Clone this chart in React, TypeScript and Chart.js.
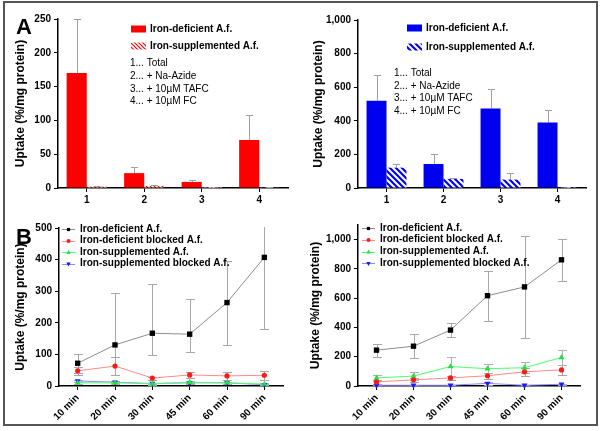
import React, { useEffect, useRef } from 'react';
import { Chart, registerables } from 'chart.js';

Chart.register(...registerables);

const FONT = "'Liberation Sans', Arial, Helvetica, sans-serif";
Chart.defaults.font.family = FONT;
Chart.defaults.color = '#000';

// ---------- data ----------
const barCategories = ['1', '2', '3', '4'];
const timeLabels = ['10 min', '20 min', '30 min', '45 min', '60 min', '90 min'];
const conditionNotes = ['1... Total', '2... + Na-Azide', '3... + 10\u00B5M TAFC', '4... + 10\u00B5M FC'];
const yTitle = 'Uptake (%/mg protein)';
const barSeriesNames = ['Iron-deficient A.f.', 'Iron-supplemented A.f.'];
const lineSeriesNames = [
  'Iron-deficient A.f.',
  'Iron-deficient blocked A.f.',
  'Iron-supplemented A.f.',
  'Iron-supplemented blocked A.f.',
];

// Panel A, left
const aLeftDeficient = [170, 22, 9, 71];
const aLeftDeficientErr = [80, 9, 3, 37];
const aLeftSupplemented = [2, 3, 1.5, 1];
const aLeftSupplementedErr = [1, 2, 0.5, 0.5];

// Panel A, right
const aRightDeficient = [520, 143, 473, 390];
const aRightDeficientErr = [152, 57, 114, 75];
const aRightSupplemented = [121, 54, 50, 5];
const aRightSupplementedErr = [24, 6, 40, 2];

// Panel B, left (error bars: upper / lower extent)
const bLeftDef = [72, 130, 167, 164, 264, 407];
const bLeftDefErrUp = [29, 164, 156, 110, 132, 228];
const bLeftDefErrDown = [32, 37, 69, 56, 134, 228];
const bLeftDefBlocked = [48, 63, 25, 35, 32, 34];
const bLeftDefBlockedErr = [12, 29, 5, 9, 13, 14];
const bLeftSup = [10, 10, 7, 12, 10, 6];
const bLeftSupErr = [4, 3, 3, 4, 3, 3];
const bLeftSupBlocked = [16, 12, 8, 10, 10, 4];
const bLeftSupBlockedErr = [4, 3, 2, 3, 3, 2];

// Panel B, right
const bRightDef = [245, 272, 382, 617, 677, 862];
const bRightDefErr = [45, 80, 48, 170, 347, 142];
const bRightDefBlocked = [28, 42, 55, 70, 97, 110];
const bRightDefBlockedErr = [12, 13, 15, 20, 28, 35];
const bRightSup = [55, 68, 133, 118, 125, 195];
const bRightSupErr = [18, 25, 65, 30, 38, 50];
const bRightSupBlocked = [5, 5, 5, 18, 5, 12];
const bRightSupBlockedErr = [3, 3, 3, 8, 3, 5];

// ---------- helpers ----------
function makeHatch(color: string, size: number, lw: number) {
  const c = document.createElement('canvas');
  c.width = size;
  c.height = size;
  const ctx = c.getContext('2d')!;
  ctx.fillStyle = '#fff';
  ctx.fillRect(0, 0, size, size);
  ctx.strokeStyle = color;
  ctx.lineWidth = lw;
  ctx.beginPath();
  ctx.moveTo(-2, -2);
  ctx.lineTo(size + 2, size + 2);
  ctx.moveTo(-2, size - 2);
  ctx.lineTo(2, size + 2);
  ctx.moveTo(size - 2, -2);
  ctx.lineTo(size + 2, 2);
  ctx.stroke();
  return ctx.createPattern(c, 'repeat')!;
}

const errorBarPlugin = {
  id: 'errorBars',
  beforeDatasetsDraw(chart: any) {
    const ctx = chart.ctx;
    const area = chart.chartArea;
    ctx.save();
    ctx.beginPath();
    ctx.rect(area.left, area.top - 1, area.right - area.left, area.bottom - area.top + 1);
    ctx.clip();
    chart.data.datasets.forEach((ds: any, i: number) => {
      const eb = ds.errorBars;
      if (!eb) return;
      const meta = chart.getDatasetMeta(i);
      const yScale = chart.scales[meta.yAxisID];
      ctx.strokeStyle = eb.color;
      ctx.lineWidth = 1;
      meta.data.forEach((el: any, j: number) => {
        const v = ds.data[j];
        const up = eb.up[j];
        const x = Math.round(el.x) + 0.5;
        const yTop = Math.round(yScale.getPixelForValue(v + up)) + 0.5;
        const both = !!eb.down;
        const yBot = both
          ? Math.round(yScale.getPixelForValue(v - eb.down[j])) + 0.5
          : yScale.getPixelForValue(v);
        ctx.beginPath();
        ctx.moveTo(x, yTop);
        ctx.lineTo(x, yBot);
        ctx.moveTo(x - eb.cap, yTop);
        ctx.lineTo(x + eb.cap, yTop);
        if (both) {
          ctx.moveTo(x - eb.cap, yBot);
          ctx.lineTo(x + eb.cap, yBot);
        }
        ctx.stroke();
      });
    });
    ctx.restore();
  },
};

function letterPlugin(letter: string, x: number, y: number) {
  return {
    id: 'panelLetter',
    afterDraw(chart: any) {
      const ctx = chart.ctx;
      ctx.save();
      ctx.font = `bold 22px ${FONT}`;
      ctx.fillStyle = '#000';
      ctx.textBaseline = 'alphabetic';
      ctx.textAlign = 'left';
      ctx.fillText(letter, x, y);
      ctx.restore();
    },
  };
}

function barLegendPlugin(
  fills: any[],
  boxX: number,
  rows: number[],
  notesX: number,
  notesRows: number[],
) {
  return {
    id: 'barLegend',
    afterDraw(chart: any) {
      const ctx = chart.ctx;
      ctx.save();
      ctx.textBaseline = 'middle';
      ctx.textAlign = 'left';
      barSeriesNames.forEach((name, i) => {
        ctx.fillStyle = fills[i];
        ctx.fillRect(boxX, rows[i] - 3.5, 15, 7);
        ctx.fillStyle = '#000';
        ctx.font = `bold 10px ${FONT}`;
        ctx.fillText(name, boxX + 19, rows[i]);
      });
      ctx.font = `10px ${FONT}`;
      conditionNotes.forEach((t, i) => {
        ctx.fillText(t, notesX, notesRows[i]);
      });
      ctx.restore();
    },
  };
}

function drawMarker(ctx: CanvasRenderingContext2D, style: string, x: number, y: number, r: number, color: string) {
  ctx.fillStyle = color;
  ctx.beginPath();
  if (style === 'rect') {
    ctx.rect(x - r, y - r, 2 * r, 2 * r);
  } else if (style === 'circle') {
    ctx.arc(x, y, r, 0, Math.PI * 2);
  } else if (style === 'tri') {
    ctx.moveTo(x, y - r * 1.2);
    ctx.lineTo(x + r * 1.1, y + r * 0.8);
    ctx.lineTo(x - r * 1.1, y + r * 0.8);
    ctx.closePath();
  } else {
    ctx.moveTo(x, y + r * 1.2);
    ctx.lineTo(x + r * 1.1, y - r * 0.8);
    ctx.lineTo(x - r * 1.1, y - r * 0.8);
    ctx.closePath();
  }
  ctx.fill();
}

const lineStyles = [
  { line: '#8c8c8c', marker: '#000000', shape: 'rect', err: '#a8a8a8' },
  { line: '#ff8a8a', marker: '#ff1a1a', shape: 'circle', err: '#b0a0a0' },
  { line: '#4dff6a', marker: '#22e040', shape: 'tri', err: '#a8b8a8' },
  { line: '#8a8aff', marker: '#1a1aff', shape: 'triDown', err: '#a8a8b8' },
];

function lineLegendPlugin(x0: number, rows: number[]) {
  return {
    id: 'lineLegend',
    afterDraw(chart: any) {
      const ctx = chart.ctx;
      ctx.save();
      ctx.textBaseline = 'middle';
      ctx.textAlign = 'left';
      ctx.font = `bold 10px ${FONT}`;
      lineSeriesNames.forEach((name, i) => {
        const st = lineStyles[i];
        const y = rows[i];
        ctx.strokeStyle = st.line;
        ctx.lineWidth = 1;
        ctx.beginPath();
        ctx.moveTo(x0, Math.round(y) + 0.5);
        ctx.lineTo(x0 + 13, Math.round(y) + 0.5);
        ctx.stroke();
        drawMarker(ctx, st.shape, x0 + 6.5, y + 0.5, st.shape === 'rect' ? 1.6 : 2, st.marker);
        ctx.fillStyle = '#000';
        ctx.fillText(name, x0 + 18, y);
      });
      ctx.restore();
    },
  };
}

function yAxis(max: number, step: number, width: number) {
  return {
    type: 'linear',
    min: 0,
    max,
    ticks: {
      stepSize: step,
      includeBounds: false,
      font: { size: 10, weight: 'bold' },
      color: '#000',
      padding: 3,
      callback: (v: any) => Number(v).toLocaleString('en-US'),
    },
    grid: { display: true, drawOnChartArea: false, drawTicks: true, tickLength: 4, tickColor: '#000', tickWidth: 1 },
    border: { display: true, color: '#000', width: 1.5 },
    title: { display: true, text: yTitle, font: { size: 12, weight: 'bold' }, color: '#000', padding: 0 },
    afterFit: (s: any) => { s.width = width; },
  };
}

function xAxis(rotated: boolean, height: number) {
  return {
    type: 'category',
    offset: true,
    ticks: {
      font: { size: 10, weight: 'bold' },
      color: '#000',
      padding: 2,
      autoSkip: false,
      minRotation: rotated ? 45 : 0,
      maxRotation: rotated ? 45 : 0,
    },
    grid: { display: true, drawOnChartArea: false, drawTicks: true, tickLength: 4, tickColor: '#000', offset: false },
    border: { display: true, color: '#000', width: 1.5 },
    afterFit: (s: any) => { s.height = height; },
  };
}

type Pad = { left: number; right: number; top: number; bottom: number };

function barConfig(
  deficient: number[], deficientErr: number[], supp: number[], suppErr: number[],
  solid: string, hatch: any, max: number, step: number, yw: number, pad: Pad, extra: any[],
) {
  return {
    type: 'bar',
    data: {
      labels: barCategories,
      datasets: [
        {
          label: barSeriesNames[0], data: deficient, backgroundColor: solid, borderWidth: 0,
          categoryPercentage: 0.7, barPercentage: 1,
          errorBars: { up: deficientErr, color: '#a0a0a0', cap: 3.5 },
        },
        {
          label: barSeriesNames[1], data: supp, backgroundColor: hatch, borderWidth: 0,
          categoryPercentage: 0.7, barPercentage: 1,
          errorBars: { up: suppErr, color: '#a0a0a0', cap: 3.5 },
        },
      ],
    },
    options: {
      responsive: false,
      animation: false,
      devicePixelRatio: 1,
      layout: { padding: pad },
      plugins: { legend: { display: false }, tooltip: { enabled: false }, title: { display: false } },
      scales: { x: xAxis(false, 30), y: yAxis(max, step, yw) },
    },
    plugins: [errorBarPlugin, ...extra],
  };
}

function lineConfig(
  series: number[][], errsUp: number[][], errsDown: number[][],
  max: number, step: number, yw: number, pad: Pad, extra: any[],
) {
  return {
    type: 'line',
    data: {
      labels: timeLabels,
      datasets: series.map((d, i) => ({
        label: lineSeriesNames[i],
        data: d,
        borderColor: lineStyles[i].line,
        borderWidth: 1,
        tension: 0,
        pointStyle: lineStyles[i].shape === 'rect' ? 'rect' : lineStyles[i].shape === 'circle' ? 'circle' : 'triangle',
        pointRotation: lineStyles[i].shape === 'triDown' ? 180 : 0,
        pointRadius: lineStyles[i].shape === 'rect' ? 3.8 : lineStyles[i].shape === 'circle' ? 2.6 : 3.4,
        pointBackgroundColor: lineStyles[i].marker,
        pointBorderColor: lineStyles[i].marker,
        pointBorderWidth: 0,
        clip: 8,
        errorBars: { up: errsUp[i], down: errsDown[i], color: lineStyles[i].err, cap: 4.5 },
      })),
    },
    options: {
      responsive: false,
      animation: false,
      devicePixelRatio: 1,
      layout: { padding: pad },
      plugins: { legend: { display: false }, tooltip: { enabled: false }, title: { display: false } },
      scales: { x: xAxis(true, 45), y: yAxis(max, step, yw) },
    },
    plugins: [errorBarPlugin, ...extra],
  };
}

function ChartCanvas({ make }: { make: () => any }) {
  const ref = useRef<HTMLCanvasElement>(null);
  useEffect(() => {
    const chart = new Chart(ref.current as HTMLCanvasElement, make());
    return () => chart.destroy();
  }, []);
  return (
    <canvas
      ref={ref}
      width={601}
      height={431}
      style={{ position: 'absolute', left: 0, top: 0, width: 601, height: 431 }}
    />
  );
}

const makeALeft = () => {
  const hatch = makeHatch('#ff0000', 4, 1.2);
  return barConfig(
    aLeftDeficient, aLeftDeficientErr, aLeftSupplemented, aLeftSupplementedErr,
    '#ff0000', hatch, 250, 50, 45,
    { left: 13, right: 313, top: 19, bottom: 213 },
    [letterPlugin('A', 16, 34), barLegendPlugin(['#ff0000', hatch], 131, [29, 46], 130, [63, 76, 89, 101])],
  );
};

const makeARight = () => {
  const hatch = makeHatch('#0000ff', 6, 2.2);
  return barConfig(
    aRightDeficient, aRightDeficientErr, aRightSupplemented, aRightSupplementedErr,
    '#0000f0', hatch, 1000, 200, 47,
    { left: 311, right: 15, top: 20, bottom: 213 },
    [barLegendPlugin(['#0000f0', hatch], 407, [28, 47], 394, [73, 86, 98, 111])],
  );
};

const makeBLeft = () =>
  lineConfig(
    [bLeftDef, bLeftDefBlocked, bLeftSup, bLeftSupBlocked],
    [bLeftDefErrUp, bLeftDefBlockedErr, bLeftSupErr, bLeftSupBlockedErr],
    [bLeftDefErrDown, bLeftDefBlockedErr, bLeftSupErr, bLeftSupBlockedErr],
    500, 100, 46,
    { left: 13, right: 318, top: 228, bottom: 0 },
    [letterPlugin('B', 16, 244), lineLegendPlugin(62, [229, 240.5, 252, 263.5])],
  );

const makeBRight = () =>
  lineConfig(
    [bRightDef, bRightDefBlocked, bRightSup, bRightSupBlocked],
    [bRightDefErr, bRightDefBlockedErr, bRightSupErr, bRightSupBlockedErr],
    [bRightDefErr, bRightDefBlockedErr, bRightSupErr, bRightSupBlockedErr],
    1100, 200, 50,
    { left: 308, right: 21, top: 225, bottom: 0 },
    [lineLegendPlugin(362, [228, 239.5, 251.5, 263])],
  );

export default function App() {
  return (
    <div style={{ position: 'fixed', left: 0, top: 0, width: 601, height: 431, background: '#fff', overflow: 'hidden' }}>
      <div
        style={{
          position: 'absolute', left: 3, top: 1, width: 595, height: 425,
          border: '2px solid #555', boxSizing: 'border-box',
        }}
      />
      <ChartCanvas make={makeALeft} />
      <ChartCanvas make={makeARight} />
      <ChartCanvas make={makeBLeft} />
      <ChartCanvas make={makeBRight} />
    </div>
  );
}
